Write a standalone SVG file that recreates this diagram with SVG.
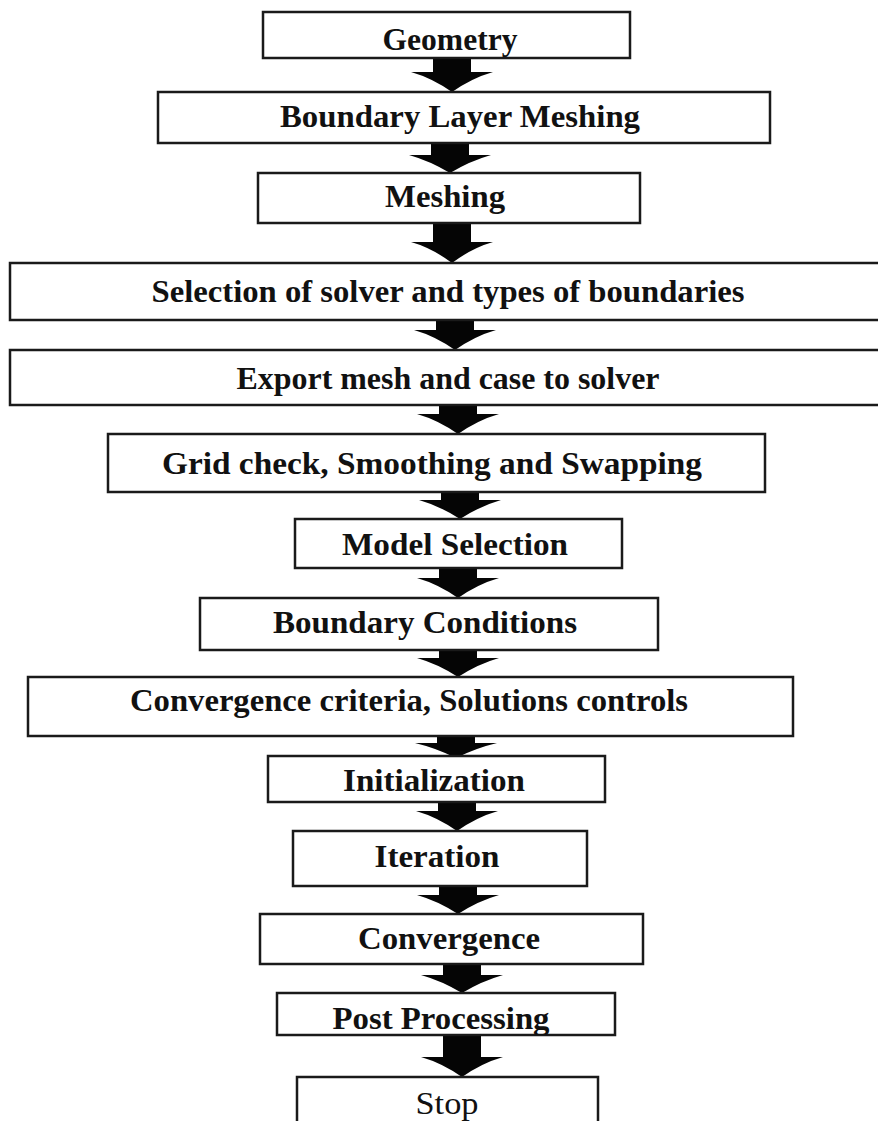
<svg xmlns="http://www.w3.org/2000/svg" width="878" height="1121" viewBox="0 0 878 1121">
<style>
.box{fill:#fff;stroke:#1a1a1a;stroke-width:2.5}
.t{font-family:"Liberation Serif","DejaVu Serif",serif;font-weight:bold;font-size:32px;fill:#111;text-anchor:middle}
.s{font-family:"Liberation Serif","DejaVu Serif",serif;font-size:31px;fill:#111;text-anchor:middle}
.arr{fill:#050505}
</style>
<defs>
<clipPath id="cpPost"><rect x="277" y="992" width="338" height="43"/></clipPath>
<clipPath id="cpStop"><rect x="297" y="1076" width="301" height="45"/></clipPath>
</defs>
<rect width="878" height="1121" fill="#fff"/>
<g id="connectors">
<path class="arr" d="M433,56 H471 V72 H493 Q472,78 452,92 Q432,78 411,72 H433 Z"/>
<path class="arr" d="M431,141 H469 V155 H491 Q470,161 450,173 Q430,161 409,155 H431 Z"/>
<path class="arr" d="M433,221 H471 V242 H493 Q472,248 452,263 Q432,248 411,242 H433 Z"/>
<path class="arr" d="M436,318 H474 V330 H496 Q475,336 455,350 Q435,336 414,330 H436 Z"/>
<path class="arr" d="M439,403 H477 V414 H499 Q478,420 458,434 Q438,420 417,414 H439 Z"/>
<path class="arr" d="M441,490 H479 V500 H501 Q480,506 460,519 Q440,506 419,500 H441 Z"/>
<path class="arr" d="M439,566 H477 V578 H499 Q478,584 458,598 Q438,584 417,578 H439 Z"/>
<path class="arr" d="M439,648 H477 V658 H499 Q478,664 458,677 Q438,664 417,658 H439 Z"/>
<path class="arr" d="M437,736 H475 V743 H497 Q476,748 456,758 Q436,748 415,743 H437 Z"/>
<path class="arr" d="M438,800 H476 V811 H498 Q477,817 457,831 Q437,817 416,811 H438 Z"/>
<path class="arr" d="M439,884 H477 V895 H499 Q478,901 458,914 Q438,901 417,895 H439 Z"/>
<path class="arr" d="M443,962 H481 V975 H503 Q482,981 462,993 Q442,981 421,975 H443 Z"/>
<path class="arr" d="M443,1033 H481 V1057 H503 Q482,1063 462,1077 Q442,1063 421,1057 H443 Z"/>
</g>
<g id="n1"><rect class="box" x="263" y="12" width="367" height="46"/><text class="t" x="450" y="50" textLength="135" lengthAdjust="spacingAndGlyphs">Geometry</text></g>
<g id="n2"><rect class="box" x="158" y="92" width="612" height="51"/><text class="t" x="460" y="127" textLength="360" lengthAdjust="spacingAndGlyphs">Boundary Layer Meshing</text></g>
<g id="n3"><rect class="box" x="258" y="173" width="382" height="50"/><text class="t" x="445" y="207" textLength="120" lengthAdjust="spacingAndGlyphs">Meshing</text></g>
<g id="n4"><rect class="box" x="10" y="263" width="880" height="57"/><text class="t" x="448" y="302" textLength="593" lengthAdjust="spacingAndGlyphs">Selection of solver and types of boundaries</text></g>
<g id="n5"><rect class="box" x="10" y="350" width="880" height="55"/><text class="t" x="448" y="389" textLength="423" lengthAdjust="spacingAndGlyphs">Export mesh and case to solver</text></g>
<g id="n6"><rect class="box" x="108" y="434" width="657" height="58"/><text class="t" x="432" y="474" textLength="540" lengthAdjust="spacingAndGlyphs">Grid check, Smoothing and Swapping</text></g>
<g id="n7"><rect class="box" x="295" y="519" width="327" height="49"/><text class="t" x="455" y="555" textLength="226" lengthAdjust="spacingAndGlyphs">Model Selection</text></g>
<g id="n8"><rect class="box" x="200" y="598" width="458" height="52"/><text class="t" x="425" y="633" textLength="304" lengthAdjust="spacingAndGlyphs">Boundary Conditions</text></g>
<g id="n9"><rect class="box" x="28" y="677" width="765" height="59"/><text class="t" x="409" y="711" textLength="558" lengthAdjust="spacingAndGlyphs">Convergence criteria, Solutions controls</text></g>
<g id="n10"><rect class="box" x="268" y="756" width="337" height="46"/><text class="t" x="434" y="791" textLength="182" lengthAdjust="spacingAndGlyphs">Initialization</text></g>
<g id="n11"><rect class="box" x="293" y="831" width="294" height="55"/><text class="t" x="437" y="867" textLength="125" lengthAdjust="spacingAndGlyphs">Iteration</text></g>
<g id="n12"><rect class="box" x="260" y="914" width="383" height="50"/><text class="t" x="449" y="949" textLength="182" lengthAdjust="spacingAndGlyphs">Convergence</text></g>
<g id="n13"><rect class="box" x="277" y="993" width="338" height="42"/><text class="t" x="441" y="1029" textLength="217" lengthAdjust="spacingAndGlyphs" clip-path="url(#cpPost)">Post Processing</text></g>
<g id="n14"><rect class="box" x="297" y="1077" width="301" height="50"/><text class="s" x="447" y="1114" textLength="63" lengthAdjust="spacingAndGlyphs" clip-path="url(#cpStop)">Stop</text></g>
</svg>
